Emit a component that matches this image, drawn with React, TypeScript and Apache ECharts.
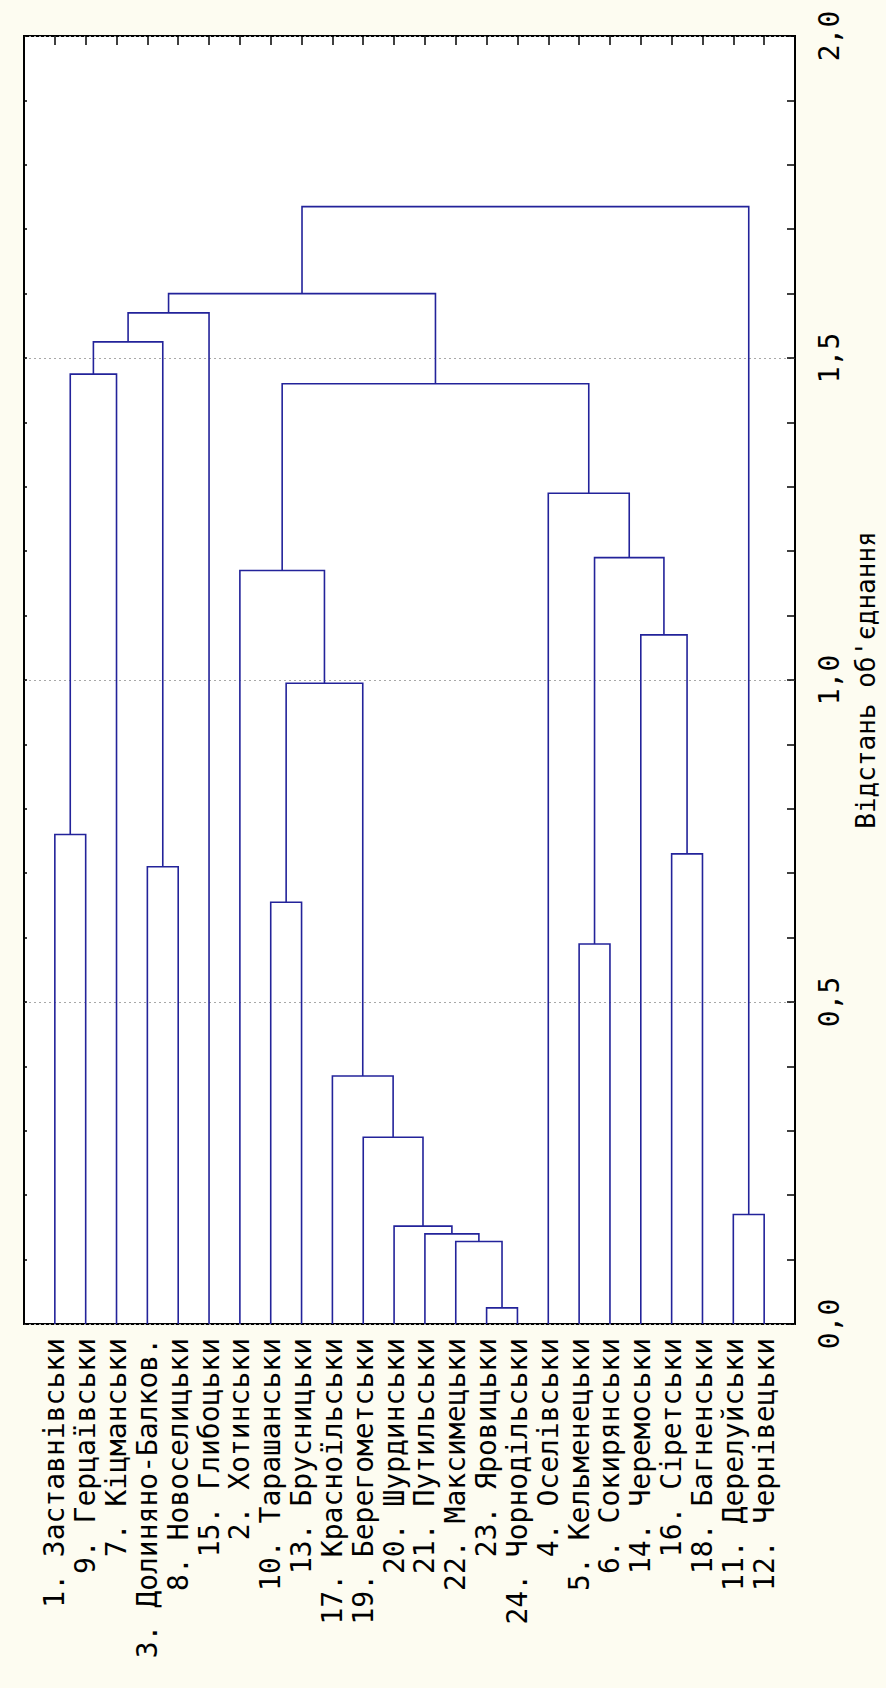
import React, { useEffect, useRef } from 'react';
import * as echarts from 'echarts';

// Leaves, left to right (as drawn after rotation)
const leafLabels = [
  '1. Заставнівськи',
  '9. Герцаївськи',
  '7. Кіцманськи',
  '3. Долиняно-Балков.',
  '8. Новоселицьки',
  '15. Глибоцьки',
  '2. Хотинськи',
  '10. Тарашанськи',
  '13. Брусницьки',
  '17. Красноїльськи',
  '19. Берегометськи',
  '20. Шурдинськи',
  '21. Путильськи',
  '22. Максимецьки',
  '23. Яровицьки',
  '24. Чорнодільськи',
  '4. Оселівськи',
  '5. Кельменецьки',
  '6. Сокирянськи',
  '14. Черемоськи',
  '16. Сіретськи',
  '18. Багненськи',
  '11. Дерелуйськи',
  '12. Чернівецьки',
];

// Merge steps: [left node, right node, linkage distance]
// leaf nodes are 0..23, merge k creates node 24 + k
const mergeLeft = [14, 13, 12, 11, 10, 9, 7, 30, 6, 17, 20, 19, 33, 16, 32, 0, 39, 3, 40, 42, 43, 22, 44];
const mergeRight = [15, 24, 25, 26, 27, 28, 8, 29, 31, 18, 21, 34, 35, 36, 37, 1, 2, 4, 41, 5, 38, 23, 45];
const mergeDist = [0.025, 0.128, 0.14, 0.152, 0.29, 0.385, 0.655, 0.995, 1.17, 0.59, 0.73, 1.07, 1.19, 1.29, 1.46, 0.76, 1.475, 0.71, 1.525, 1.57, 1.6, 0.17, 1.735];

const axisTitle = "Відстань об'єднання";
const distMin = 0;
const distMax = 2;
const distStep = 0.5;

const FONT = 'DejaVu Sans Mono';

export default function App() {
  const ref = useRef<HTMLDivElement>(null);

  useEffect(() => {
    document.body.style.margin = '0';
    document.body.style.background = '#FDFCF1';
    const chart = echarts.init(ref.current!, null, { renderer: 'svg' });

    const nodeX: number[] = leafLabels.map((_, i) => i);
    const nodeH: number[] = leafLabels.map(() => 0);
    const links = mergeDist.map((h, k) => {
      const a = mergeLeft[k];
      const b = mergeRight[k];
      const row = [nodeX[a], nodeH[a], nodeX[b], nodeH[b], h];
      nodeX.push((nodeX[a] + nodeX[b]) / 2);
      nodeH.push(h);
      return row;
    });

    const tickLine = { color: '#000', width: 1.5 };

    chart.setOption({
      animation: false,
      backgroundColor: '#FDFCF1',
      grid: {
        left: 24,
        right: 91,
        top: 36,
        bottom: 364,
        containLabel: false,
        outerBoundsMode: 'none',
        show: true,
        backgroundColor: '#ffffff',
        borderColor: '#000000',
        borderWidth: 2,
      },
      xAxis: [
        {
          type: 'value',
          position: 'bottom',
          min: -1,
          max: leafLabels.length,
          interval: 1,
          axisLine: { show: false, onZero: false },
          axisTick: { show: false },
          splitLine: { show: false },
          axisLabel: {
            rotate: 90,
            margin: 14,
            color: '#000',
            fontFamily: FONT,
            fontSize: 28,
            formatter: (v: number) => leafLabels[Math.round(v)] ?? '',
          },
        },
        {
          type: 'value',
          position: 'top',
          min: -1,
          max: leafLabels.length,
          interval: 1,
          axisLine: { show: false, onZero: false },
          axisTick: { show: true, inside: true, length: 9, lineStyle: tickLine },
          splitLine: { show: false },
          axisLabel: { show: false },
        },
      ],
      yAxis: [
        {
          type: 'value',
          position: 'right',
          min: distMin,
          max: distMax,
          interval: distStep,
          axisLine: { show: false, onZero: false },
          axisTick: { show: true, inside: true, length: 8, lineStyle: tickLine },
          minorTick: { show: true, splitNumber: 5, length: 8, lineStyle: tickLine },
          splitLine: { show: true, lineStyle: { color: '#a8a8a8', type: [2, 3], width: 1 } },
          axisLabel: {
            rotate: 90,
            margin: 20,
            color: '#000',
            fontFamily: FONT,
            fontSize: 28,
            formatter: (v: number) => v.toFixed(1).replace('.', ','),
          },
          name: axisTitle,
          nameLocation: 'middle',
          nameRotate: 90,
          nameGap: 58,
          nameTextStyle: { color: '#000', fontFamily: FONT, fontSize: 26 },
        },
        {
          type: 'value',
          position: 'left',
          min: distMin,
          max: distMax,
          interval: distStep,
          axisLine: { show: false, onZero: false },
          axisTick: { show: true, inside: true, length: 3, lineStyle: tickLine },
          minorTick: { show: true, splitNumber: 5, length: 3, lineStyle: tickLine },
          splitLine: { show: false },
          axisLabel: { show: false },
        },
      ],
      series: [
        {
          type: 'custom',
          xAxisIndex: 0,
          yAxisIndex: 0,
          encode: { x: [0, 2], y: [1, 3, 4] },
          data: links,
          renderItem: (params: any, api: any) => {
            const xl = api.value(0);
            const hl = api.value(1);
            const xr = api.value(2);
            const hr = api.value(3);
            const h = api.value(4);
            const pts = [
              api.coord([xl, hl]),
              api.coord([xl, h]),
              api.coord([xr, h]),
              api.coord([xr, hr]),
            ];
            return {
              type: 'polyline',
              shape: { points: pts },
              style: { stroke: '#23239a', lineWidth: 1.6, fill: 'none' },
            };
          },
        },
      ],
    });

    return () => chart.dispose();
  }, []);

  return <div ref={ref} style={{ width: 886, height: 1688 }} />;
}
